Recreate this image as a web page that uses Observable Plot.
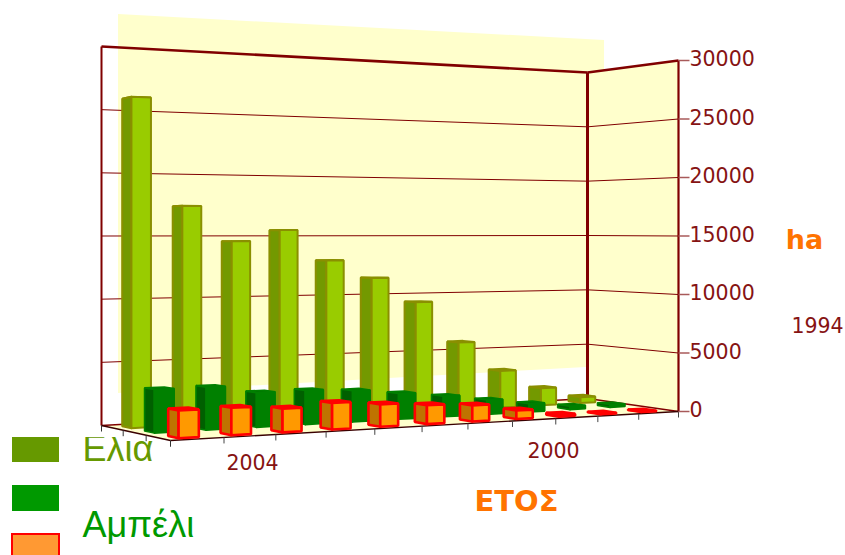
<!DOCTYPE html>
<html><head><meta charset="utf-8">
<style>html,body{margin:0;padding:0;background:#fff;overflow:hidden}</style>
<script src="https://cdn.jsdelivr.net/npm/d3@7"></script>
<script src="https://cdn.jsdelivr.net/npm/@observablehq/plot@0.6"></script>
</head><body>
<script>
// ---------- data ----------
const years = [2004,2003,2002,2001,2000,1999,1998,1997,1996,1995,1994];
const olive = [25800,17350,14550,15450,12950,11450,9350,5800,3200,1500,520];
const vine  = [3300,3300,2700,2700,2500,2100,1700,1200,700,300,250];
const orange= [2050,2050,1800,2050,1750,1500,1300,700,150,50,30];
const yTicks = [0,5000,10000,15000,20000,25000,30000];
const yMax = 30000;
const seriesNames = ["Ελια","Αμπέλι"];

// ---------- scene: a perspective box mapped onto the plot's x/y scales ----------
const FR={x:678,y:411,h:351}, BR={x:587,y:398,h:326}, BL={x:101,y:425,h:379};
const FL={x:170,y:440,h:1/(1/BL.h+1/FR.h-1/BR.h)};
function P(u,d,v=0){
  const bl=(k)=>(k(FL)*(1-u)+k(FR)*u)*(1-d)+(k(BL)*(1-u)+k(BR)*u)*d;
  const w=bl(c=>1/c.h);
  return {x:bl(c=>c.x/c.h)/w, y:bl(c=>c.y/c.h)/w-(v/yMax)/w};
}
const n=years.length, dark="#800000";
const faces=[];
function face(id,pts,fill,stroke){pts=[...pts,pts[0]];pts.forEach(p=>faces.push({id,...p,fill,stroke}));}
const wallShift={x:16.5,y:-32.5};
const backWall=[[0,1,yMax],[1,1,yMax],[1,1,0],[0,1,0]].map(a=>{const p=P(...a);return {x:p.x+wallShift.x,y:p.y+wallShift.y}});
face("back",backWall,"#ffffcc","none");
face("right",[P(1,1,0),P(1,0,0),P(1,0,yMax),P(1,1,yMax)],"#ffffcc","none");
face("floor",[P(0,0),P(1,0),P(1,1),P(0,1)],"#ffffcc","none");

const boxW=[.27,.65], boxFront=.08, boxDepth=.14;
function box(key,i,row,v,c){
  const u0=(i+boxW[0])/n,u1=(i+boxW[1])/n,d0=(row+.5)/3-boxFront,d1=d0+boxDepth;
  face(key+i+"t",[P(u0,d0,v),P(u1,d0,v),P(u1,d1,v),P(u0,d1,v)],c.top,c.edge);
  face(key+i+"s",[P(u0,d0,0),P(u0,d1,0),P(u0,d1,v),P(u0,d0,v)],c.side,c.edge);
  face(key+i+"f",[P(u0,d0,0),P(u1,d0,0),P(u1,d0,v),P(u0,d0,v)],c.front,c.edge);
}
const cOlive={front:"#99cc00",side:"#739900",top:"#86b300",edge:"#8a8f00"};
const cVine={front:"#008000",side:"#006000",top:"#007000",edge:"#008000"};
const cOrange={front:"#ff9900",side:"#bf7300",top:"#df8600",edge:"#ff0000"};
const rowFaces=(vals,row,c,key)=>{const s=faces.length;for(let i=n-1;i>=0;i--)box(key,i,row,vals[i],c);return faces.splice(s);};
const wallFaces=faces.splice(0);
const oliveFaces=rowFaces(olive,2,cOlive,"o");
const vineFaces=rowFaces(vine,1,cVine,"v");
const orangeFaces=rowFaces(orange,0,cOrange,"r");

const grid=yTicks.slice(1,-1).flatMap(v=>[
  {a:P(0,1,v),b:P(1,1,v)},{a:P(1,1,v),b:P(1,0,v)}]);
const frame=[
  {a:P(0,1,0),b:P(0,1,yMax),w:2},{a:P(0,1,yMax),b:P(1,1,yMax),w:2.6},
  {a:P(1,1,0),b:P(1,1,yMax),w:3},{a:P(1,1,yMax),b:P(1,0,yMax),w:2.6},
  {a:P(1,0,0),b:P(1,0,yMax),w:2.2},{a:P(0,1,0),b:P(1,1,0),w:1.5},{a:P(1,1,0),b:P(1,0,0),w:1.5}];
const floorEdge=[{a:P(0,0),b:P(1,0)},{a:P(0,0),b:P(0,1)}];
const lab=(v)=>P(1,0,v);
const xTickU=d3.range(n+1).map(i=>P(i/n,0));
const zTick=[0,1/3,2/3,1].map(d=>P(0,d));

const link=(data,o)=>Plot.link(data,{x1:d=>d.a.x,y1:d=>d.a.y,x2:d=>d.b.x,y2:d=>d.b.y,...o});
const polys=(data)=>Plot.line(data,{x:"x",y:"y",z:"id",fill:"fill",stroke:"stroke",strokeWidth:data===orangeFaces?2.6:data===oliveFaces?2:1.6,curve:"linear",strokeLinejoin:"miter"});

const axisFont="DejaVu Sans", red="#861313", hot="#ff7300";
const plot=Plot.plot({
  width:845,height:555,margin:0,
  x:{domain:[0,845],range:[0,845],axis:null},
  y:{domain:[0,555],range:[0,555],axis:null},
  color:{type:"identity"},
  style:{background:"#fff"},
  marks:[
    // legend
    Plot.text([seriesNames[0]],{x:82,y:460,text:d=>d,textAnchor:"start",lineAnchor:"bottom",fontSize:36,fontFamily:"Liberation Sans",fill:"#669900"}),
    Plot.rect([0],{x1:78,x2:165,y1:425,y2:437,fill:"#fff"}),
    Plot.text([seriesNames[1]],{x:82,y:536,text:d=>d,textAnchor:"start",lineAnchor:"bottom",fontSize:36,fontFamily:"Liberation Sans",fill:"#009900"}),
    Plot.rect([{a:437,b:462,f:"#669900",s:"none"},{a:485,b:511,f:"#009900",s:"none"},{a:534,b:560,f:"#ff9933",s:"#ff0000"}],
      {x1:12,x2:59,y1:"a",y2:"b",fill:"f",stroke:"s",strokeWidth:2}),
    // walls, grid
    polys(wallFaces),
    link(grid,{stroke:dark,strokeWidth:1}),
    link(frame,{stroke:dark,strokeWidth:"w"}),
    link(floorEdge,{stroke:"#3a0000",strokeWidth:1.4}),
    link(xTickU.map(p=>({a:p,b:{x:p.x,y:p.y+6}})),{stroke:"#444",strokeWidth:1}),
    link(zTick.map(p=>({a:p,b:{x:p.x,y:p.y+6}})),{stroke:"#333",strokeWidth:1}),
    // bars, back to front
    polys(oliveFaces),polys(vineFaces),polys(orangeFaces),
    // y axis
    link(yTicks.map(v=>({a:lab(v),b:{x:lab(v).x+11,y:lab(v).y}})),{stroke:"#a85a5a",strokeWidth:1.5}),
    Plot.text(yTicks,{x:d=>lab(d).x+11,y:d=>lab(d).y-1,text:d=>String(d),textAnchor:"start",fontSize:20.5,fontFamily:axisFont,fill:red}),
    // category labels
    Plot.text([years[0],years[4],years[10]],{x:d=>({2004:252,2000:553,1994:817})[d],y:d=>({2004:463,2000:451,1994:326})[d],text:d=>String(d),fontSize:20.5,fontFamily:axisFont,fill:red}),
    // axis titles
    Plot.text(["ha"],{x:804,y:240,text:d=>d,fontSize:27,fontWeight:"bold",fontFamily:axisFont,fill:hot}),
    Plot.text(["ΕΤΟΣ"],{x:516,y:501,text:d=>d,fontSize:29,fontWeight:"bold",fontFamily:axisFont,fill:hot})
  ]
});
document.body.appendChild(plot);
</script>
</body></html>
